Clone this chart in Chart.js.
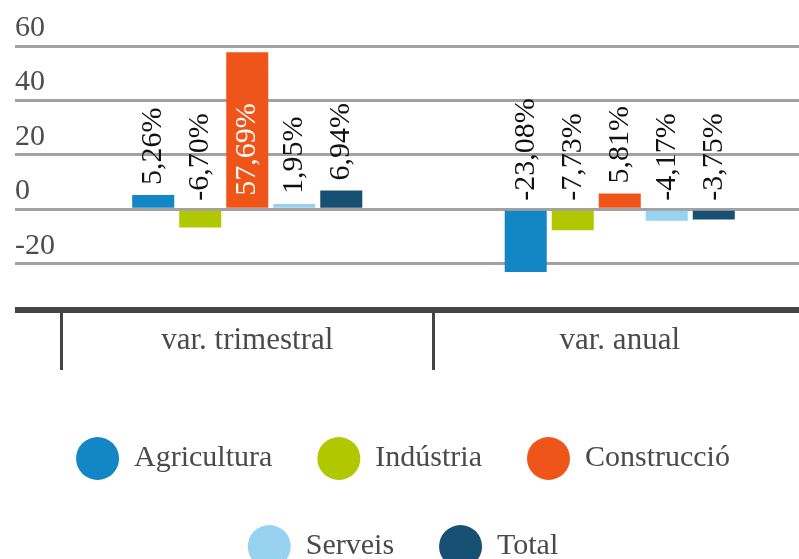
<!DOCTYPE html>
<html>
<head>
<meta charset="utf-8">
<script src="https://cdn.jsdelivr.net/npm/chart.js@4/dist/chart.umd.min.js"></script>
<style>
  html, body { margin: 0; padding: 0; background: #fff; overflow: hidden; }
  #wrap { width: 806px; height: 578px; }
</style>
</head>
<body>
<div id="wrap"><canvas id="chartBars" width="806" height="578"></canvas></div>
<script>
// dades
const categories = ['var. trimestral', 'var. anual'];
const sectors = ['Agricultura', 'Indústria', 'Construcció', 'Serveis', 'Total'];
const agricultura = [5.26, -23.08];
const industria = [-6.70, -7.73];
const construccio = [57.69, 5.81];
const serveis = [1.95, -4.17];
const total = [6.94, -3.75];
const yMin = -37;
const yMax = 60;
const yStep = 20;

const colors = ['#1386c5', '#b1c800', '#ef5418', '#97d3f1', '#185073'];
const serif = "'Liberation Serif', serif";

// etiquetes verticals sobre les barres
const valueLabels = {
  id: 'valueLabels',
  afterDatasetsDraw(chart) {
    const ctx = chart.ctx;
    ctx.save();
    ctx.font = '30px ' + serif;
    ctx.textAlign = 'left';
    ctx.textBaseline = 'middle';
    chart.data.datasets.forEach(function(ds, i) {
      chart.getDatasetMeta(i).data.forEach(function(bar, j) {
        const txt = ds.data[j].toFixed(2).replace('.', ',') + '%';
        const w = ctx.measureText(txt).width;
        let y = Math.min(bar.y, bar.base) - 10;
        let color = '#111';
        if (y - w < 0) { y = bar.base - 12; color = '#fff'; }
        ctx.save();
        ctx.translate(bar.x, y);
        ctx.rotate(-Math.PI / 2);
        ctx.fillStyle = color;
        ctx.fillText(txt, 0, 0);
        ctx.restore();
      });
    });
    ctx.restore();
  }
};

const series = [agricultura, industria, construccio, serveis, total];

new Chart(document.getElementById('chartBars').getContext('2d'), {
  type: 'bar',
  data: {
    labels: categories,
    datasets: sectors.map(function(name, i) {
      return { label: name, data: series[i], backgroundColor: colors[i], borderWidth: 0,
               categoryPercentage: 0.631, barPercentage: 0.894 };
    })
  },
  options: {
    responsive: false,
    animation: false,
    layout: { padding: { top: 46, left: 0, right: 0, bottom: 0 } },
    scales: {
      x: {
        afterFit: function(s) { s.height = 82; },
        grid: { offset: true, drawOnChartArea: false, drawTicks: true, tickLength: 60, color: '#444', lineWidth: 3 },
        border: { display: true, color: '#444', width: 6 },
        ticks: { padding: -48, color: '#4a4a4a', font: { family: serif, size: 31 } }
      },
      y: {
        min: yMin,
        max: yMax,
        afterFit: function(s) { s.width = 61; },
        border: { display: false },
        grid: {
          drawTicks: true,
          tickLength: 46,
          color: function(c) { return c.tick && c.tick.value === yMin ? '#444' : '#a2a2a2'; },
          lineWidth: function(c) { return c.tick && c.tick.value === yMin ? 6 : 3; }
        },
        ticks: {
          stepSize: yStep,
          mirror: true,
          padding: -46,
          labelOffset: -18,
          color: '#4d4d4d',
          font: { family: serif, size: 30 },
          callback: function(v) { return v % yStep === 0 ? v : ''; }
        }
      }
    },
    plugins: {
      tooltip: { enabled: false },
      legend: {
        position: 'bottom',
        labels: {
          boxWidth: 43,
          boxHeight: 43,
          useBorderRadius: true,
          borderRadius: 21.5,
          padding: 45,
          color: '#4a4a4a',
          font: { family: serif, size: 30 }
        }
      }
    }
  },
  plugins: [valueLabels]
});
</script>
</body>
</html>
